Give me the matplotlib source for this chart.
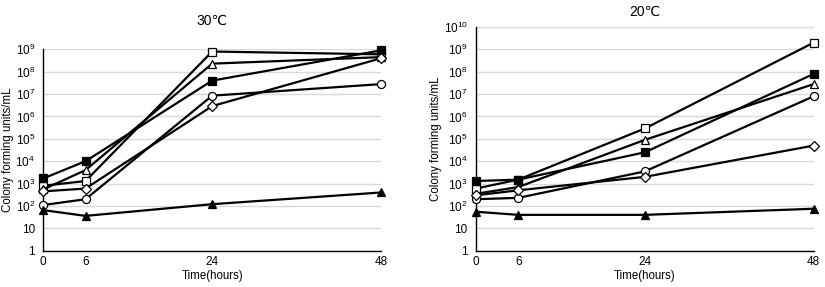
import matplotlib.pyplot as plt

plt.rcParams['font.family'] = ['Liberation Sans', 'DejaVu Sans']
plt.rcParams['mathtext.fontset'] = 'custom'
plt.rcParams['mathtext.rm'] = 'Liberation Sans'

hours = [0, 6, 24, 48]
hour_labels = ['0', '6', '24', '48']

# 30 C
sq_open_30 = [800, 1300, 8e8, 6e8]
sq_filled_30 = [1700, 1e4, 4e7, 9e8]
tri_open_30 = [550, 4000, 2.3e8, 4.5e8]
circle_30 = [110, 200, 8.5e6, 2.8e7]
diamond_30 = [450, 600, 2.9e6, 4e8]
tri_filled_30 = [65, 36, 120, 400]

# 20 C
sq_open_20 = [600, 1500, 2.9e5, 2e9]
sq_filled_20 = [1300, 1500, 2.5e4, 8e7]
tri_open_20 = [350, 700, 9e4, 2.8e7]
circle_20 = [200, 230, 3.5e3, 8e6]
diamond_20 = [300, 500, 2e3, 5e4]
tri_filled_20 = [55, 40, 40, 75]

styles = [('s', 'white'), ('s', 'black'), ('^', 'white'),
          ('o', 'white'), ('D', 'white'), ('^', 'black')]


def ytick_label(p):
    if p == 0:
        return '1'
    if p == 1:
        return '10'
    return r'$\mathregular{10^{%d}}$' % p


def draw(ax, series, top, title, pad):
    for vals, (m, fc) in zip(series, styles):
        ms = 4.6 if m == 'D' else 5.8
        ax.plot(hours, vals, color='black', lw=1.6, marker=m, ms=ms,
                mfc=fc, mec='black', mew=0.9, clip_on=False, zorder=3)
    ax.set_yscale('log')
    ax.set_ylim(1, 10 ** top)
    ax.set_xlim(0, 48)
    ticks = [10 ** p for p in range(top + 1)]
    ax.set_yticks(ticks)
    ax.set_yticklabels([ytick_label(p) for p in range(top + 1)])
    ax.minorticks_off()
    ax.set_xticks(hours)
    ax.set_xticklabels(hour_labels)
    ax.tick_params(length=0, labelsize=8.5)
    ax.tick_params(axis='y', pad=6)
    ax.tick_params(axis='x', pad=4)
    ax.grid(axis='y', color='#d9d9d9', lw=1)
    ax.set_axisbelow(True)
    for s in ['top', 'right']:
        ax.spines[s].set_visible(False)
    for s in ['left', 'bottom']:
        ax.spines[s].set_linewidth(1)
    ax.set_xlabel('Time(hours)', fontsize=8.3, labelpad=1)
    ax.set_ylabel('Colony forming units/mL', fontsize=8.3, labelpad=1)
    ax.set_title(title, fontsize=10, pad=pad)


fig = plt.figure(figsize=(8.25, 2.87), dpi=100)
ax1 = fig.add_axes([0.0525, 0.1265, 0.4093, 0.7015])
ax2 = fig.add_axes([0.577, 0.1265, 0.4093, 0.7795])

draw(ax1, [sq_open_30, sq_filled_30, tri_open_30, circle_30, diamond_30, tri_filled_30], 9, '30℃', 18)
draw(ax2, [sq_open_20, sq_filled_20, tri_open_20, circle_20, diamond_20, tri_filled_20], 10, '20℃', 8)

fig.savefig('out.png', dpi=100)
